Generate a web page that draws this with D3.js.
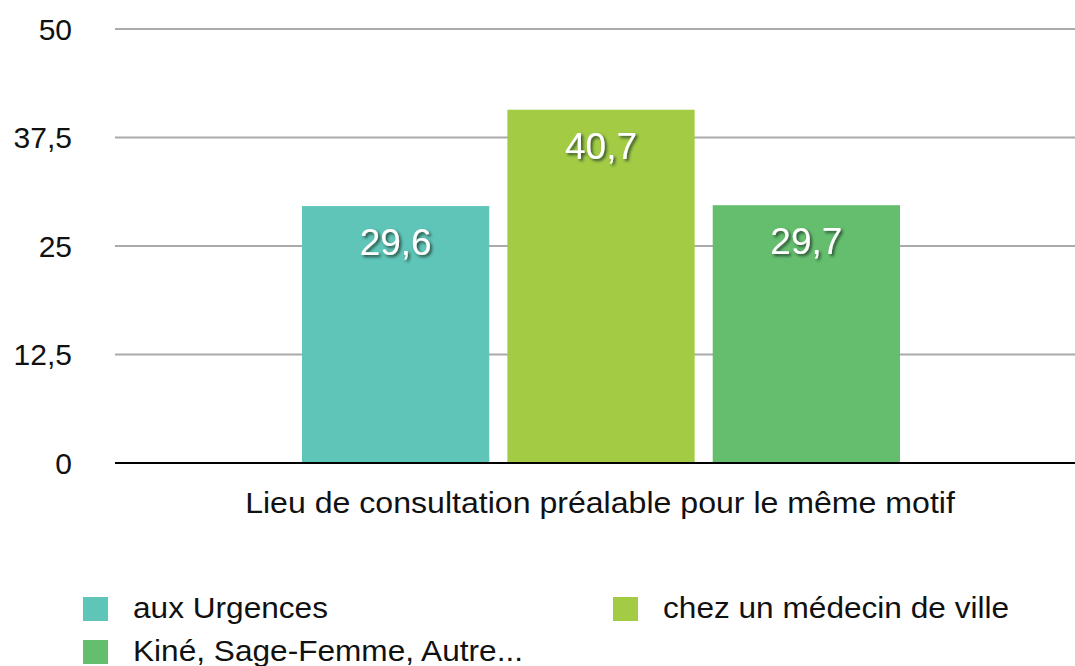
<!DOCTYPE html>
<html>
<head>
<meta charset="utf-8">
<script src="https://cdn.jsdelivr.net/npm/d3@7"></script>
<style>
  body { margin: 0; background: #fff; }
  text { font-family: "Liberation Sans", Arial, Helvetica, sans-serif; }
</style>
</head>
<body>
<div id="chart"></div>
<script>
// data
const categories = ["aux Urgences", "chez un médecin de ville", "Kiné, Sage-Femme, Autre..."];
const values = [29.6, 40.7, 29.7];
const colors = ["#5fc5b9", "#a3cc44", "#65be6e"];
const yTicks = [0, 12.5, 25, 37.5, 50];
const xTitle = "Lieu de consultation préalable pour le même motif";

const width = 1075, height = 666;
const svg = d3.select("#chart").append("svg")
  .attr("width", width).attr("height", height);

// shadow for bar labels
const defs = svg.append("defs");
defs.append("filter").attr("id", "shadow")
  .attr("x", "-20%").attr("y", "-30%").attr("width", "150%").attr("height", "170%")
  .append("feDropShadow")
  .attr("dx", 2).attr("dy", 2).attr("stdDeviation", 1.6)
  .attr("flood-color", "#1d3b2a").attr("flood-opacity", 0.85);

const plotLeft = 115, plotRight = 1075;
const y = d3.scaleLinear().domain([0, 50]).range([463, 29]);
const x = d3.scaleBand().domain(categories).range([302, 900]).paddingInner(0.088).paddingOuter(0);

const fmt = (v) => String(v).replace(".", ",");

// gridlines
svg.append("g").selectAll("line")
  .data(yTicks.filter((d) => d > 0))
  .join("line")
  .attr("x1", plotLeft).attr("x2", plotRight)
  .attr("y1", (d) => y(d)).attr("y2", (d) => y(d))
  .attr("stroke", "#aaaaaa").attr("stroke-width", 2);

// y tick labels
svg.append("g").selectAll("text")
  .data(yTicks)
  .join("text")
  .attr("x", 72).attr("y", (d) => y(d))
  .attr("dy", "0.36em")
  .attr("text-anchor", "end")
  .style("font-size", "30px")
  .attr("fill", "#111")
  .text(fmt);

// bars
svg.append("g").selectAll("rect")
  .data(values)
  .join("rect")
  .attr("x", (d, i) => x(categories[i]))
  .attr("y", (d) => y(d))
  .attr("width", x.bandwidth())
  .attr("height", (d) => y(0) - y(d))
  .attr("fill", (d, i) => colors[i]);

// baseline
svg.append("line")
  .attr("x1", plotLeft).attr("x2", plotRight)
  .attr("y1", y(0)).attr("y2", y(0))
  .attr("stroke", "#000").attr("stroke-width", 2);

// value labels
svg.append("g").selectAll("text")
  .data(values)
  .join("text")
  .attr("x", (d, i) => x(categories[i]) + x.bandwidth() / 2)
  .attr("y", (d) => y(d) + 49)
  .attr("text-anchor", "middle")
  .style("font-size", "37px")
  .attr("fill", "#fff")
  .attr("filter", "url(#shadow)")
  .text(fmt);

// x title (text in the original is a bit wider than Liberation Sans)
svg.append("text")
  .attr("transform", "translate(600,513) scale(1.07,1)")
  .attr("text-anchor", "middle")
  .style("font-size", "30px")
  .attr("fill", "#111")
  .text(xTitle);

// legend
const legendPos = [[83, 597], [613, 597], [83, 640]];
const lg = svg.append("g").selectAll("g")
  .data(categories)
  .join("g")
  .attr("transform", (d, i) => `translate(${legendPos[i][0]},${legendPos[i][1]})`);
lg.append("rect")
  .attr("width", 25).attr("height", 24)
  .attr("fill", (d, i) => colors[i]);
lg.append("text")
  .attr("transform", "translate(50,21) scale(1.09,1)")
  .style("font-size", "29px")
  .attr("fill", "#111")
  .text((d) => d);
</script>
</body>
</html>
